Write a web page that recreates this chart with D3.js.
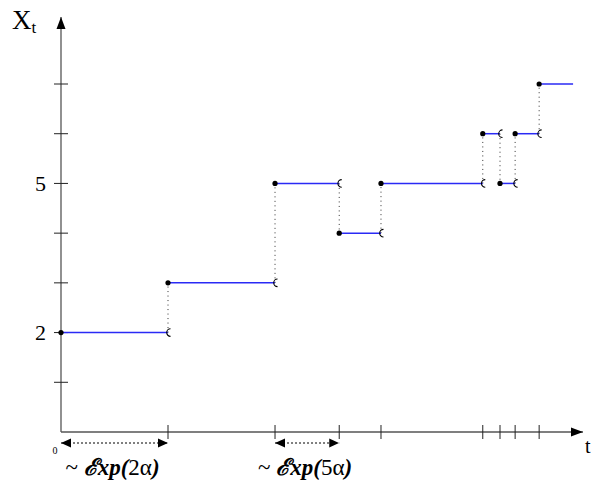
<!DOCTYPE html>
<html><head><meta charset="utf-8">
<script src="https://cdn.jsdelivr.net/npm/d3@7"></script>
<style>body{margin:0;background:#fff}svg{display:block}</style>
</head><body>
<script>
// Jump times and values of the process X_t
const jumpTimes = [0, 2.05, 4.10, 5.33, 6.13, 8.08, 8.41, 8.70, 9.16];
const stateValues = [2, 3, 5, 4, 5, 6, 5, 6, 7];
const endTime = 9.81;
const yTickValues = [1, 2, 3, 4, 5, 6, 7];
const yTickLabels = ["2", "5"];
const intervals = [
  {from: 0, to: 2.05, rate: "2α"},
  {from: 4.10, to: 5.33, rate: "5α"}
];

const W = 596, H = 487;
const svg = d3.select("body").append("svg").attr("width", W).attr("height", H);
const x = d3.scaleLinear().domain([0, 10]).range([61, 583]);
const y = d3.scaleLinear().domain([0, 7]).range([432, 84]);
const axisColor = "#555";
const serif = "'Liberation Serif','Times New Roman',serif";

const defs = svg.append("defs");
defs.append("marker").attr("id","arr").attr("viewBox","0 0 10 10").attr("refX",10).attr("refY",5)
  .attr("markerWidth",10).attr("markerHeight",10).attr("markerUnits","userSpaceOnUse").attr("orient","auto-start-reverse")
  .append("path").attr("d","M0,0.5 L10,5 L0,9.5 Z").attr("fill","#000");

// axes
svg.append("line").attr("x1", x(0)).attr("x2", x(10)).attr("y1", y(0)).attr("y2", y(0))
  .attr("stroke", axisColor).attr("stroke-width", 1.3);
svg.append("path").attr("d", `M${x(10)-12},${y(0)-4.5} L${x(10)},${y(0)} L${x(10)-12},${y(0)+4.5} Z`).attr("fill","#000");
svg.append("line").attr("x1", x(0)).attr("x2", x(0)).attr("y1", y(0)).attr("y2", 17)
  .attr("stroke", axisColor).attr("stroke-width", 1.3);
svg.append("path").attr("d", `M${x(0)-4.5},${29} L${x(0)},17 L${x(0)+4.5},${29} Z`).attr("fill","#000");

// y ticks
svg.selectAll(".yt").data(yTickValues).enter().append("line")
  .attr("x1", x(0)-7).attr("x2", x(0)+7).attr("y1", d=>y(d)).attr("y2", d=>y(d))
  .attr("stroke", "#222").attr("stroke-width", 1);
svg.selectAll(".yl").data(yTickLabels).enter().append("text")
  .attr("x", 46).attr("y", d=>y(+d)).attr("dy","0.35em").attr("text-anchor","end")
  .attr("font-family", serif).attr("font-size", 22).text(d=>d);

// x ticks
svg.selectAll(".xt").data(jumpTimes.slice(1)).enter().append("line")
  .attr("x1", d=>x(d)).attr("x2", d=>x(d)).attr("y1", y(0)-7).attr("y2", y(0)+7)
  .attr("stroke", "#222").attr("stroke-width", 1);

// labels
const xl = svg.append("text").attr("x", 12).attr("y", 29).attr("font-family", serif).attr("font-size", 27);
xl.append("tspan").text("X");
xl.append("tspan").attr("font-size", 17).attr("dy", 4).text("t");
svg.append("text").attr("x", 585).attr("y", 453).attr("font-family", serif).attr("font-size", 20).text("t");
svg.append("text").attr("x", 55).attr("y", 454).attr("text-anchor","middle").attr("font-family", serif).attr("font-size", 10).text("0");

// segments
const segs = jumpTimes.map((t,i)=>({t0:t, t1: i<jumpTimes.length-1 ? jumpTimes[i+1] : endTime, v: stateValues[i], last: i===jumpTimes.length-1}));
// dotted connectors
segs.slice(1).forEach((s,i)=>{
  const prev = segs[i];
  svg.append("line").attr("x1", x(s.t0)).attr("x2", x(s.t0)).attr("y1", y(prev.v)).attr("y2", y(s.v))
    .attr("stroke", "#333").attr("stroke-width", 1).attr("stroke-dasharray", "1,3.5");
});
svg.selectAll(".seg").data(segs).enter().append("line")
  .attr("x1", d=>x(d.t0)).attr("x2", d=>x(d.t1)).attr("y1", d=>y(d.v)).attr("y2", d=>y(d.v))
  .attr("stroke", "#2a2af5").attr("stroke-width", 1.5);
svg.selectAll(".dot").data(segs).enter().append("circle")
  .attr("cx", d=>x(d.t0)).attr("cy", d=>y(d.v)).attr("r", 2.6).attr("fill", "#000");
svg.selectAll(".open").data(segs.filter(d=>!d.last)).enter().append("path")
  .attr("d", d=>{const px=x(d.t1), py=y(d.v); return `M${px+2.5},${py-3.8} A3.8,3.8 0 0 0 ${px+2.5},${py+3.8}`;})
  .attr("fill","none").attr("stroke","#000").attr("stroke-width",1.1);

// exponential interval arrows
intervals.forEach(iv=>{
  svg.append("line").attr("x1", x(iv.from)).attr("x2", x(iv.to)).attr("y1", 443).attr("y2", 443)
    .attr("stroke","#000").attr("stroke-width",1).attr("stroke-dasharray","2,2")
    .attr("marker-start","url(#arr)").attr("marker-end","url(#arr)");
  const tx = svg.append("text").attr("x", (x(iv.from)+x(iv.to))/2 - 2).attr("y", 475).attr("text-anchor","middle")
    .attr("font-family", serif).attr("font-size", 23);
  tx.append("tspan").text("~ ");
  tx.append("tspan").attr("font-weight","bold").attr("font-style","italic").text("ℰxp(");
  tx.append("tspan").text(iv.rate);
  tx.append("tspan").attr("font-weight","bold").attr("font-style","italic").text(")");
});
</script>
</body></html>
